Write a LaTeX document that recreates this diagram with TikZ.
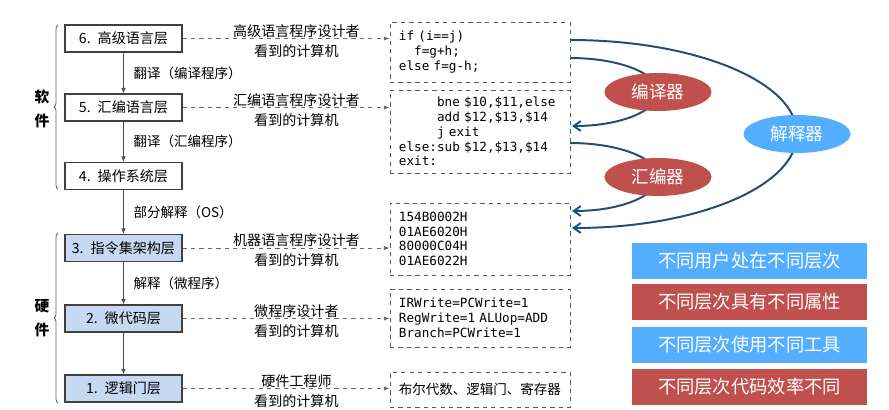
\documentclass[tikz,border=0pt]{standalone}
\usepackage{fontspec}
\setmainfont{Noto Sans CJK SC}
\setmonofont{DejaVu Sans Mono}
\usetikzlibrary{shapes.geometric,decorations.pathreplacing,arrows.meta,backgrounds}
\definecolor{layerfill}{RGB}{198,217,241}
\definecolor{curveblue}{RGB}{31,78,121}
\definecolor{softred}{RGB}{192,80,77}
\definecolor{skyblue}{RGB}{84,174,255}

\begin{document}
\begin{tikzpicture}[x=0.025cm,y=-0.025cm,
    layer/.style={draw=black!75,line width=0.8pt,fill=white,minimum width=2.925cm,minimum height=0.675cm,inner sep=0pt,font=\fontsize{10}{12}\selectfont},
    hwlayer/.style={layer,fill=layerfill},
    codebox/.style={draw=black!65,dashed,line width=0.6pt,text width=4.05cm,align=left,inner xsep=0.225cm,inner ysep=0pt,font=\ttfamily\fontsize{9}{10.5}\selectfont},
    viewline/.style={draw=black!60,dashed,line width=0.6pt,-{Latex[length=4pt,width=3pt]}},
    flow/.style={draw=black!70,line width=0.7pt,-{Latex[length=4pt,width=3.5pt]}},
    sidebrace/.style={draw=black!60,line width=0.6pt,decorate,decoration={brace,amplitude=0.1cm}},
    tool/.style={ellipse,minimum width=2.675cm,minimum height=0.95cm,inner sep=0pt,text=white,font=\fontsize{12.5}{14}\selectfont},
    note/.style={minimum width=5.875cm,minimum height=0.9cm,inner sep=0pt,text=white,font=\fontsize{13}{15}\selectfont},
    trans/.style={draw=curveblue,line width=1.4pt,-{Straight Barb[length=5pt,width=7pt]}}]
    \useasboundingbox (0,0) rectangle (889,409);

    % Layers
    \node[layer] (L6) at (123.5,38.5) {6.\enspace 高级语言层};
    \node[layer] (L5) at (123.5,107.5) {5.\enspace 汇编语言层};
    \node[layer] (L4) at (123.5,176) {4.\enspace 操作系统层};
    \node[hwlayer] (L3) at (123.5,248) {3.\enspace 指令集架构层};
    \node[hwlayer] (L2) at (123.5,318.5) {2.\enspace 微代码层};
    \node[hwlayer] (L1) at (123.5,388.5) {1.\enspace 逻辑门层};

    \draw[sidebrace] (58,189) -- (58,25);
    \draw[sidebrace] (58,403) -- (58,233);
    \node[align=center,font=\bfseries\fontsize{10.5}{17}\selectfont] (sw) at (42,109) {软\\件};
    \node[align=center,font=\bfseries\fontsize{10.5}{17}\selectfont] (hw) at (42,318) {硬\\件};

    \draw[flow] (L6) -- (L5) node[midway,right=0.24cm,inner sep=0pt,font=\fontsize{9.6}{12}\selectfont] {翻译（编译程序）};
    \draw[flow] (L5) -- (L4) node[midway,right=0.24cm,inner sep=0pt,font=\fontsize{9.6}{12}\selectfont] {翻译（汇编程序）};
    \draw[flow] (L4) -- (L3) node[midway,right=0.24cm,inner sep=0pt,font=\fontsize{9.6}{12}\selectfont] {部分解释（OS）};
    \draw[flow] (L3) -- (L2) node[midway,right=0.24cm,inner sep=0pt,font=\fontsize{9.6}{12}\selectfont] {解释（微程序）};
    \draw[flow] (L2) -- (L1);

    % What each user sees
    \node[codebox,minimum height=1.5cm] (hll) at (480,52) {if (i==j)\\\phantom{if}f=g+h;\\else f=g-h;};
    \node[codebox,minimum height=2.075cm] (asm) at (480,131.5) {\phantom{else:}bne \$10,\$11,else\\\phantom{else:}add \$12,\$13,\$14\\\phantom{else:}j exit\\else:sub \$12,\$13,\$14\\exit:};
    \node[codebox,minimum height=1.8cm] (mc) at (480,239) {154B0002H\\01AE6020H\\80000C04H\\01AE6022H};
    \node[codebox,minimum height=1.45cm] (uc) at (480,318) {IRWrite=PCWrite=1\\RegWrite=1 ALUop=ADD\\Branch=PCWrite=1};
    \node[codebox,minimum height=0.875cm,font=\rmfamily\fontsize{9.6}{11}\selectfont] (gate) at (480,389.5) {布尔代数、逻辑门、寄存器};

    \begin{scope}[every node/.style={inner sep=0pt,font=\fontsize{10}{12}\selectfont}]
    \draw[viewline] (L6.east) -- (L6.east -| hll.west) node[pos=0.55,above=0.5pt] {高级语言程序设计者} node[pos=0.55,below=4pt] {看到的计算机};
    \draw[viewline] (L5.east) -- (L5.east -| asm.west) node[pos=0.55,above=0.5pt] {汇编语言程序设计者} node[pos=0.55,below=4pt] {看到的计算机};
    \draw[viewline] (L3.east) -- (L3.east -| mc.west) node[pos=0.55,above=0.5pt] {机器语言程序设计者} node[pos=0.55,below=4pt] {看到的计算机};
    \draw[viewline] (L2.east) -- (L2.east -| uc.west) node[pos=0.55,above=0.5pt] {微程序设计者} node[pos=0.55,below=4pt] {看到的计算机};
    \draw[viewline] (L1.east) -- (L1.east -| gate.west) node[pos=0.55,above=0.5pt] {硬件工程师} node[pos=0.55,below=4pt] {看到的计算机};
    \end{scope}

    % Translators
    \node[tool,fill=softred] (comp) at (658,92) {编译器};
    \node[tool,fill=softred] (assem) at (658,177) {汇编器};
    \node[tool,fill=skyblue] (interp) at (797,134) {解释器};

    \coordinate (i1) at (570,40);
    \coordinate (i2) at (572,228);
    \coordinate (c1) at (570,58);
    \coordinate (c2) at (572,126);
    \coordinate (a1) at (570,143);
    \coordinate (a2) at (572,211);
    \begin{scope}[on background layer]
    \draw[trans] (c1) .. controls +(48.6,0) and +(0,-18.8) .. (comp.center) .. controls +(0,18.8) and +(48.6,0) .. (c2);
    \draw[trans] (a1) .. controls +(48.6,0) and +(0,-18.8) .. (assem.center) .. controls +(0,18.8) and +(48.6,0) .. (a2);
    \draw[trans] (i1) .. controls +(126,0) and +(0,-52) .. (interp.center) .. controls +(0,52) and +(126,0) .. (i2);
    \end{scope}

    % Notes
    \node[note,fill=skyblue] (n1) at (749.5,261) {不同用户处在不同层次};
    \node[note,fill=softred] (n2) at (749.5,302) {不同层次具有不同属性};
    \node[note,fill=skyblue] (n3) at (749.5,345) {不同层次使用不同工具};
    \node[note,fill=softred] (n4) at (749.5,387) {不同层次代码效率不同};
\end{tikzpicture}
\end{document}
